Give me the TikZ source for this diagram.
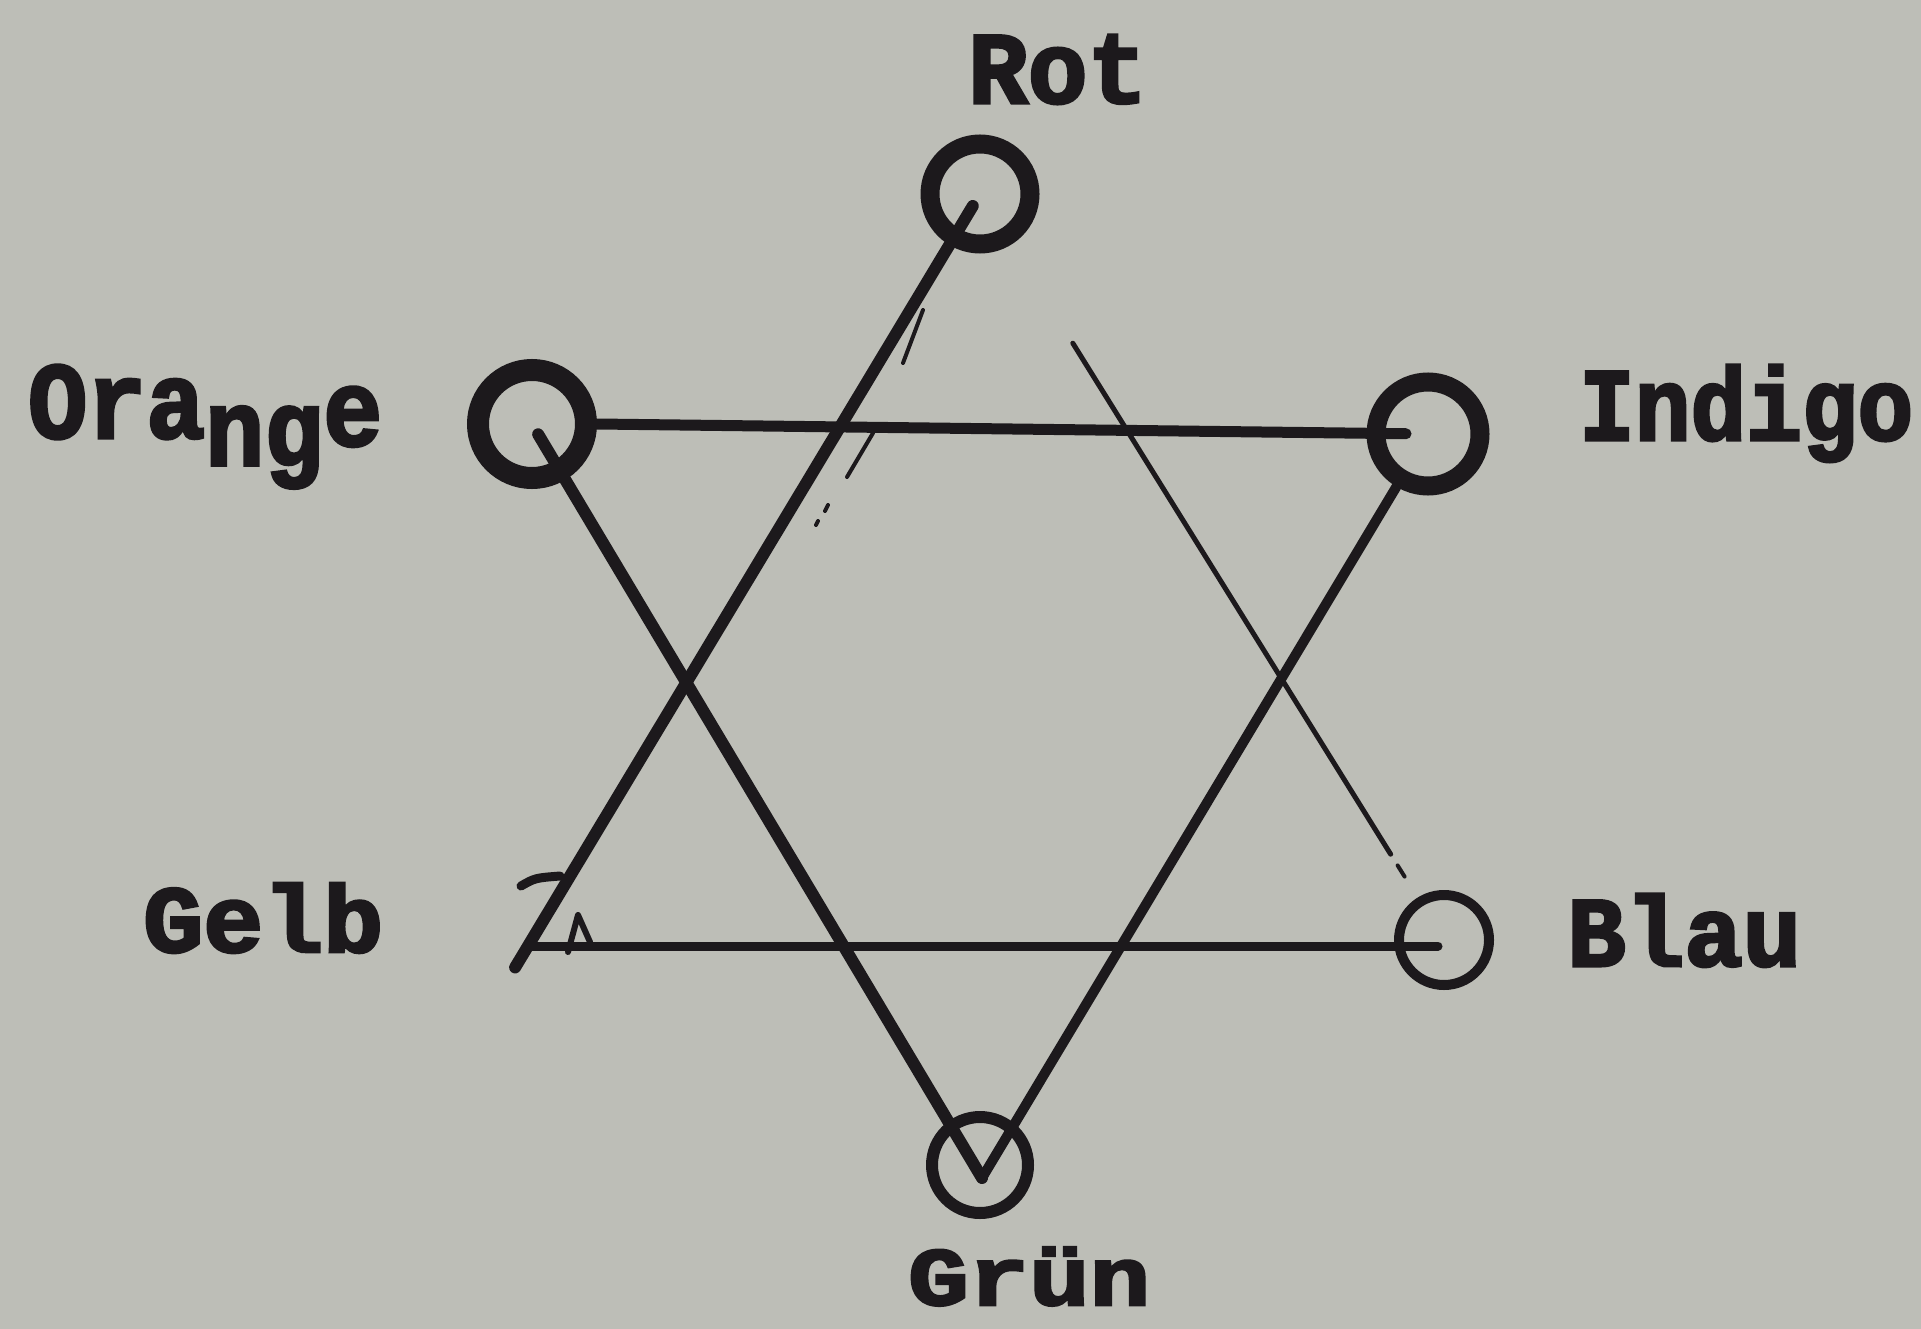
\documentclass[tikz,border=0pt]{standalone}
\usepackage{fontspec}
\usepackage{graphicx}
\usetikzlibrary{calc}
\newfontfamily\labfont[BoldFeatures={FakeBold=3}]{Liberation Mono}
\definecolor{paper}{RGB}{189,190,183}
\definecolor{inkc}{RGB}{28,25,28}
\newcommand{\lblbox}[3]{\resizebox{#1}{#2}{\labfont\bfseries #3}}
\begin{document}
\begin{tikzpicture}[x=1pt,y=-1pt,
  vert/.style={circle,draw=inkc,inner sep=0pt},
  con/.style={draw=inkc,line cap=round,line join=round},
  thinmark/.style={draw=inkc,line cap=round,line width=4pt},
  lab/.style={inner sep=0pt,anchor=base west,text=inkc}]
\fill[paper] (0,0) rectangle (1921,1329);
\useasboundingbox (0,0) rectangle (1921,1329);

% vertices
\node[vert,minimum size=100pt,line width=19pt] (Rot) at (980,194) {};
\node[vert,minimum size=108pt,line width=22pt] (Orange) at (532,424) {};
\node[vert,minimum size=104pt,line width=19pt] (Indigo) at (1428,434) {};
\node[vert,minimum size=90pt,line width=10pt] (Blau) at (1444,940) {};
\node[vert,minimum size=96pt,line width=12pt] (Gruen) at (980,1165) {};
\coordinate (Gelb) at (528,946);
\coordinate (GV) at (982,1178);

% triangle Rot - Gelb - Blau
\draw[con,line width=12pt,shorten <=14pt,shorten >=-25pt] (Rot.center) -- (Gelb);
\draw[con,line width=9pt,shorten >=6pt] (Gelb) -- (Gelb -| Blau.center);
\draw[con,line width=5pt] ($(Rot)!0.2!(Blau)$) -- ($(Rot)!0.885!(Blau)$);
\draw[con,line width=4pt] ($(Rot)!0.9!(Blau)$) -- ($(Rot)!0.915!(Blau)$);

% triangle Orange - Indigo - Gruen
\draw[con,line width=11pt,shorten >=22pt] (Orange.east) -- (Indigo.center);
\draw[con,line width=12pt,shorten <=12pt] (Orange.center) -- (GV);
\draw[con,line width=10pt] (Indigo) -- (GV);

% printing marks
\draw[thinmark] (923,310) -- (903,363);
\draw[thinmark] (873,433) -- (847,477);
\draw[thinmark] (828,505) -- (825,511);
\draw[thinmark] (818,521) -- (816,525);
\draw[con,line width=9pt] (521,886) .. controls (535,878) .. (560,876);
\draw[con,line width=6pt] (568,952) -- (578,915) -- (590,942);

% labels
\node[lab] (tRot) at (968,103) {\lblbox{179pt}{68pt}{Rot}};
\node[lab] (tOrange) at (28,438) {\resizebox{354pt}{73pt}{\labfont\bfseries Ora\raisebox{-0.25em}{ng}\raisebox{-0.07em}{e}}};
\node[lab] (tIndigo) at (1579,440) {\lblbox{334pt}{75pt}{Indigo}};
\node[lab] (tGelb) at (143,952) {\lblbox{240pt}{69pt}{Gelb}};
\node[lab] (tBlau) at (1567,966) {\lblbox{234pt}{72pt}{Blau}};
\node[lab] (tGruen) at (908,1305) {\lblbox{242pt}{58pt}{Grün}};
\end{tikzpicture}
\end{document}
